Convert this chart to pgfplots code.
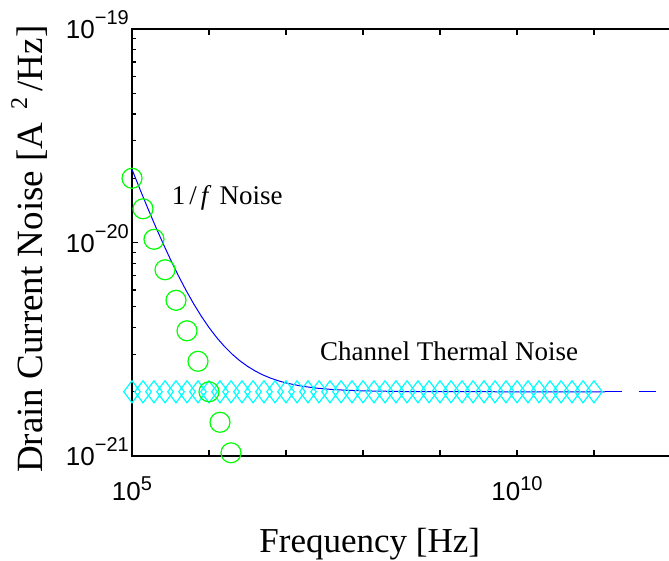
\documentclass[border=0pt]{standalone}
\usepackage{pgfplots}
\pgfplotsset{compat=1.18}
\usepackage{fontspec}
\setmainfont{Liberation Serif}
\setsansfont{Liberation Sans}
\definecolor{mblue}{rgb}{0,0,1}
\definecolor{mgreen}{rgb}{0,1,0}
\definecolor{mcyan}{rgb}{0,1,1}
\newcommand{\xtl}[1]{{\sffamily\fontsize{26}{26}\selectfont 10\raisebox{10pt}{\fontsize{20}{20}\selectfont #1}}}
\newcommand{\ytl}[1]{{\sffamily\fontsize{26}{26}\selectfont 10\raisebox{14pt}{\fontsize{20}{20}\selectfont #1}}}
\begin{document}
\begin{tikzpicture}[x=1pt,y=1pt]
\begin{axis}[
  at={(132pt,105pt)}, anchor=south west,
  scale only axis, width=770pt, height=427pt,
  xmode=log, ymode=log,
  xmin=1e5, xmax=1e15, ymin=1e-21, ymax=1e-19,
  clip=false,
  axis line style={black, line width=1.6pt},
  every tick/.style={black, line width=1.3pt},
  tick align=inside,
  major tick length=6pt, minor tick length=3.5pt,
  xtick={1e5,1e6,1e7,1e8,1e9,1e10,1e11,1e12,1e13,1e14,1e15},
  xticklabels={\xtl{5},,,,,\xtl{10},,,,,},
  xminorticks=false,
  ytick={1e-21,1e-20,1e-19},
  yticklabels={\ytl{−21},\ytl{−20},\ytl{−19}},
  minor ytick={2e-21,3e-21,4e-21,5e-21,6e-21,7e-21,8e-21,9e-21,2e-20,3e-20,4e-20,5e-20,6e-20,7e-20,8e-20,9e-20},
  xticklabel style={anchor=base, yshift=-44.5pt, inner sep=0pt},
  yticklabel style={anchor=base east, yshift=-9.5pt, xshift=-3pt, inner sep=0pt},
]
% channel thermal noise (diamonds)
\addplot[only marks, mark=diamond, mark size=11pt, mcyan, line width=1.2pt] coordinates {
(1e5,2e-21)(1.3895e5,2e-21)(1.9307e5,2e-21)(2.6827e5,2e-21)(3.7276e5,2e-21)(5.1795e5,2e-21)(7.1969e5,2e-21)
(1e6,2e-21)(1.3895e6,2e-21)(1.9307e6,2e-21)(2.6827e6,2e-21)(3.7276e6,2e-21)(5.1795e6,2e-21)(7.1969e6,2e-21)
(1e7,2e-21)(1.3895e7,2e-21)(1.9307e7,2e-21)(2.6827e7,2e-21)(3.7276e7,2e-21)(5.1795e7,2e-21)(7.1969e7,2e-21)
(1e8,2e-21)(1.3895e8,2e-21)(1.9307e8,2e-21)(2.6827e8,2e-21)(3.7276e8,2e-21)(5.1795e8,2e-21)(7.1969e8,2e-21)
(1e9,2e-21)(1.3895e9,2e-21)(1.9307e9,2e-21)(2.6827e9,2e-21)(3.7276e9,2e-21)(5.1795e9,2e-21)(7.1969e9,2e-21)
(1e10,2e-21)(1.3895e10,2e-21)(1.9307e10,2e-21)(2.6827e10,2e-21)(3.7276e10,2e-21)(5.1795e10,2e-21)(7.1969e10,2e-21)
(1e11,2e-21)
};
% total noise (solid)
\addplot[mblue, line width=1pt, no marks] coordinates {
(1e5,2.2e-20)(1.2589e5,1.7886e-20)(1.5849e5,1.4619e-20)(1.9953e5,1.2024e-20)(2.5119e5,9.962e-21)
(3.1623e5,8.325e-21)(3.9811e5,7.024e-21)(5.0119e5,5.990e-21)(6.3096e5,5.170e-21)(7.9433e5,4.518e-21)
(1e6,4.0e-21)(1.2589e6,3.589e-21)(1.5849e6,3.262e-21)(1.9953e6,3.002e-21)(2.5119e6,2.796e-21)
(3.1623e6,2.632e-21)(3.9811e6,2.502e-21)(5.0119e6,2.399e-21)(6.3096e6,2.317e-21)(7.9433e6,2.252e-21)
(1e7,2.2e-21)(1.5849e7,2.126e-21)(2.5119e7,2.080e-21)(3.9811e7,2.050e-21)(6.3096e7,2.032e-21)
(1e8,2.02e-21)(3.1623e8,2.006e-21)(1e9,2.002e-21)(1e10,2.0002e-21)(1e11,2.0e-21)(1.38e11,2.0e-21)
};
% total noise (dashed continuation)
\addplot[mblue, line width=1pt, no marks, dash pattern=on 17pt off 17pt] coordinates {
(1.38e11,2e-21)(1e15,2e-21)
};
% 1/f noise (circles)
\addplot[only marks, mark=o, mark size=10pt, mgreen, line width=1.2pt] coordinates {
(1e5,2.0e-20)(1.3895e5,1.4394e-20)(1.9307e5,1.0359e-20)(2.6827e5,7.455e-21)(3.7276e5,5.365e-21)
(5.1795e5,3.861e-21)(7.1969e5,2.779e-21)(1e6,2.0e-21)(1.3895e6,1.4394e-21)(1.9307e6,1.0359e-21)
};
\end{axis}
\node[anchor=base west, inner sep=0pt, font=\fontsize{27}{27}\selectfont] at (171.7,356) {1\hspace{4pt}/\hspace{4pt}\textit{f}\hspace{8pt}Noise};
\node[anchor=base west, inner sep=0pt, font=\fontsize{27}{27}\selectfont] at (320,200.3) {Channel Thermal Noise};
\node[anchor=base, inner sep=0pt, font=\fontsize{35}{35}\selectfont] at (369.7,8) {Frequency [Hz]};
\node[anchor=base west, rotate=90, inner sep=0pt, font=\fontsize{37}{37}\selectfont] at (42,88) {Drain Current Noise [A\hspace{13pt}\raisebox{15pt}{\fontsize{24}{24}\selectfont 2}\hspace{6pt}/Hz]};
\pgfresetboundingbox
\useasboundingbox (0,0) rectangle (669,561);
\end{tikzpicture}
\end{document}
